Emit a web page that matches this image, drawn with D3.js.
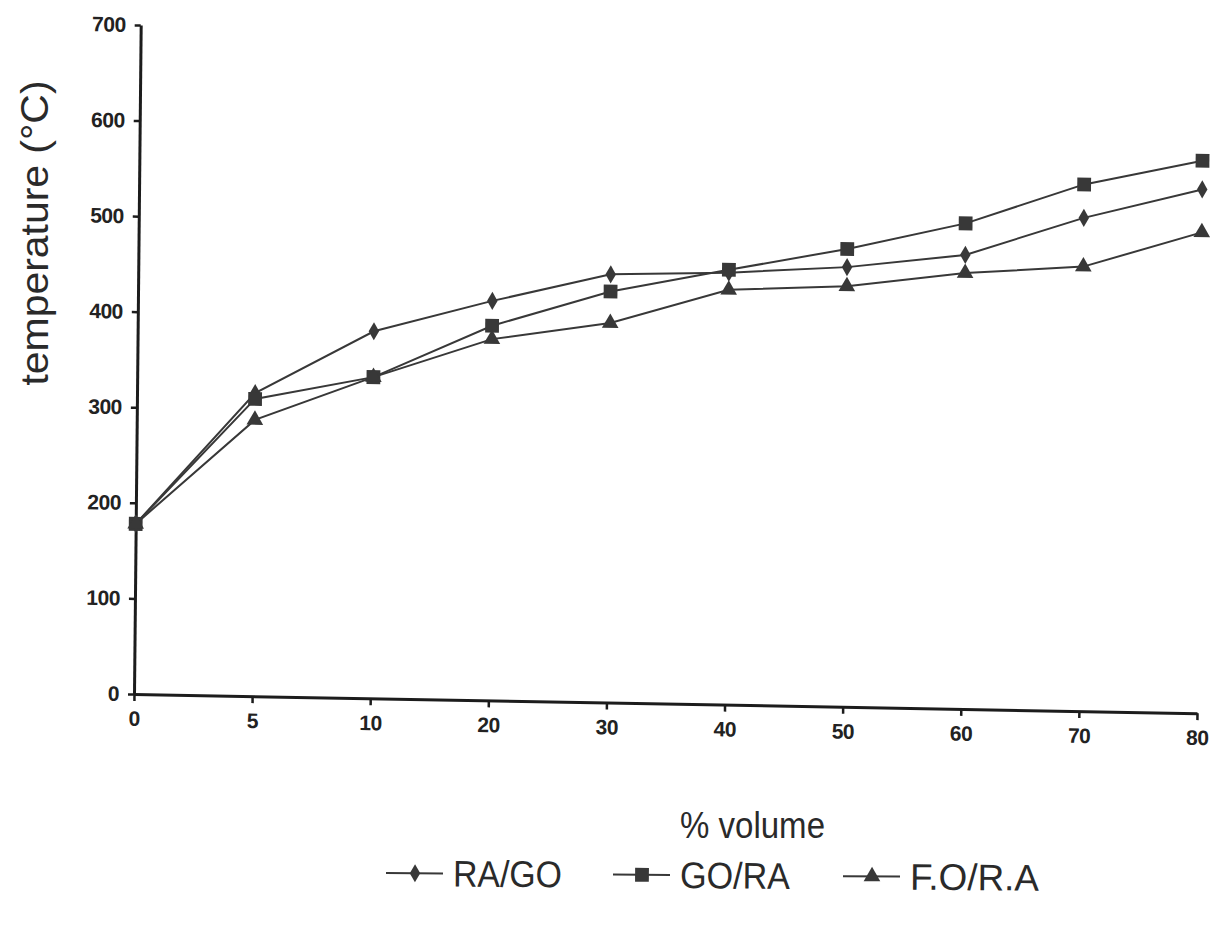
<!DOCTYPE html>
<html>
<head>
<meta charset="utf-8">
<script src="https://cdn.jsdelivr.net/npm/d3@7"></script>
<style>
  html, body { margin: 0; padding: 0; background: #fff; }
  svg { display: block; }
</style>
</head>
<body>
<svg id="chart" width="1213" height="942"></svg>
<script>
// Volume fraction categories (x axis) and measured temperatures (°C)
const categories = ["0", "5", "10", "20", "30", "40", "50", "60", "70", "80"];
const raGo = [178, 317, 384, 418, 448, 452, 460, 475, 516, 548];
const goRa = [178, 311, 336, 392, 430, 455, 479, 508, 551, 578];
const foRa = [178, 289, 336, 378, 397, 434, 440, 456, 465, 503];
const seriesNames = ["RA/GO", "GO/RA", "F.O/R.A"];
const yTicks = [0, 100, 200, 300, 400, 500, 600, 700];

const series = [
  { name: seriesNames[0], values: raGo, symbol: d3.symbolDiamond, size: 95 },
  { name: seriesNames[1], values: goRa, symbol: d3.symbolSquare, size: 190 },
  { name: seriesNames[2], values: foRa, symbol: d3.symbolTriangle, size: 120 }
];

const ink = "#383838";
const axisInk = "#1c1c1c";

const svg = d3.select("#chart");

// plot frame
const plotLeft = 134, plotTop = 25, plotW = 1063, plotH = 669;
const baseY = plotTop + plotH;
// the printed figure sits slightly askew: shear both axes a touch
const shearY = 0.018, shearX = -0.010;
const tilt = svg.append("g")
  .attr("transform", `matrix(1, ${shearY}, ${shearX}, 1, ${-shearX * baseY}, ${-shearY * plotLeft})`);
const g = tilt.append("g").attr("transform", `translate(${plotLeft},${plotTop})`);

const x = d3.scalePoint().domain(categories).range([0, plotW]);
const y = d3.scaleLinear().domain([0, 700]).range([plotH, 0]);

// axes
const yAxis = g.append("g")
  .call(d3.axisLeft(y).tickValues(yTicks).tickSize(6).tickSizeOuter(0).tickPadding(9));
const xAxis = g.append("g")
  .attr("transform", `translate(0,${plotH})`)
  .call(d3.axisBottom(x).tickSize(7).tickSizeOuter(0).tickPadding(10));

[yAxis, xAxis].forEach(a => {
  a.select(".domain").attr("stroke", axisInk).attr("stroke-width", 3);
  a.selectAll(".tick line").attr("stroke", axisInk).attr("stroke-width", 2.5);
  a.selectAll(".tick text")
    .attr("fill", "#222")
    .style("font-family", "'Liberation Sans', Arial, sans-serif")
    .style("font-weight", "bold")
    .style("font-size", "21px")
    .style("letter-spacing", "-0.5px");
});

// lines and markers
const line = d3.line()
  .x((d, i) => x(categories[i]))
  .y(d => y(d));

series.forEach(s => {
  g.append("path")
    .datum(s.values)
    .attr("fill", "none")
    .attr("stroke", ink)
    .attr("stroke-width", 2)
    .attr("d", line);
});

series.forEach(s => {
  g.append("g").selectAll("path")
    .data(s.values)
    .join("path")
    .attr("transform", (d, i) => `translate(${x(categories[i])},${y(d)})`)
    .attr("d", d3.symbol().type(s.symbol).size(s.size))
    .attr("fill", ink);
});

// axis titles
const titleFont = "'Liberation Sans', Arial, sans-serif";
svg.append("text")
  .attr("transform", "translate(48,233) rotate(-90)")
  .attr("text-anchor", "middle")
  .attr("textLength", 305)
  .attr("lengthAdjust", "spacingAndGlyphs")
  .style("font-family", titleFont)
  .style("font-size", "38px")
  .attr("fill", "#2a2a2a")
  .text("temperature (°C)");

svg.append("text")
  .attr("x", 680)
  .attr("y", 838)
  .attr("textLength", 145)
  .attr("lengthAdjust", "spacingAndGlyphs")
  .style("font-family", titleFont)
  .style("font-size", "36px")
  .attr("fill", "#2a2a2a")
  .text("% volume");

// legend
const legendY = 873;
const legendX = [386, 613, 843];
const legendTextW = [109, 110, 129];
const legend = svg.append("g").attr("transform", `rotate(0.4, 386, ${legendY})`);
series.forEach((s, i) => {
  const lx = legendX[i];
  const item = legend.append("g").attr("transform", `translate(${lx},${legendY})`);
  item.append("line")
    .attr("x1", 0).attr("x2", 57).attr("y1", 0).attr("y2", 0)
    .attr("stroke", ink).attr("stroke-width", 2);
  item.append("path")
    .attr("transform", "translate(29,0)")
    .attr("d", d3.symbol().type(s.symbol).size(s.size))
    .attr("fill", ink);
  item.append("text")
    .attr("x", 67)
    .attr("y", 13)
    .attr("textLength", legendTextW[i])
    .attr("lengthAdjust", "spacingAndGlyphs")
    .style("font-family", titleFont)
    .style("font-size", "37px")
    .attr("fill", "#2a2a2a")
    .text(s.name);
});
</script>
</body>
</html>
